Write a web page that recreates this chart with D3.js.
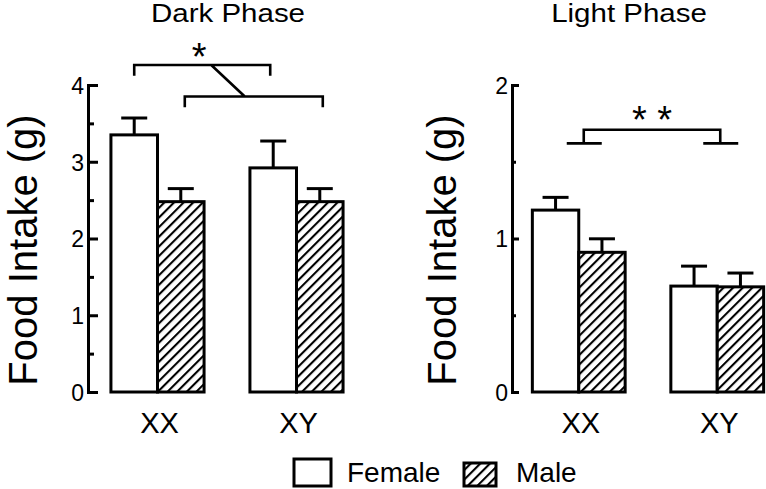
<!DOCTYPE html>
<html>
<head>
<meta charset="utf-8">
<script src="https://cdn.jsdelivr.net/npm/d3@7"></script>
<style>
  body { margin: 0; background: #fff; }
  svg { display: block; }
  text { font-family: "Liberation Sans", Arial, Helvetica, sans-serif; fill: #000; }
</style>
</head>
<body>
<div id="chart"></div>
<script>
const W = 766;
const H = 489;

// data
const groups = ["XX", "XY"];
const sexes = ["Female", "Male"];

const darkFemale = [3.35, 2.92];
const darkFemaleErr = [0.22, 0.35];
const darkMale = [2.48, 2.48];
const darkMaleErr = [0.17, 0.17];
const darkTicks = [0, 1, 2, 3, 4];
const darkMinor = [0.5, 1.5, 2.5, 3.5];

const lightFemale = [1.185, 0.69];
const lightFemaleErr = [0.083, 0.13];
const lightMale = [0.91, 0.685];
const lightMaleErr = [0.088, 0.09];
const lightTicks = [0, 1, 2];
const lightMinor = [0.5, 1.5];

const svg = d3.select("#chart").append("svg")
  .attr("width", W)
  .attr("height", H);

// hatch for the male bars
const defs = svg.append("defs");
defs.append("pattern")
  .attr("id", "hatch")
  .attr("patternUnits", "userSpaceOnUse")
  .attr("width", 6.8)
  .attr("height", 6.8)
  .attr("patternTransform", "rotate(45)")
  .call(p => {
    p.append("rect").attr("width", 6.8).attr("height", 6.8).attr("fill", "#fff");
    p.append("line")
      .attr("x1", 1).attr("y1", 0).attr("x2", 1).attr("y2", 6.8)
      .attr("stroke", "#000").attr("stroke-width", 2.2);
  });

function panel(opts) {
  const g = svg.append("g");
  const y = d3.scaleLinear().domain([0, opts.yMax]).range([392, 85]);
  const x = d3.scaleBand().domain(groups)
    .range(opts.xRange)
    .paddingInner(0.33)
    .paddingOuter(opts.outer);
  const xi = d3.scaleBand().domain(sexes).range([0, x.bandwidth()]);

  const rows = [];
  groups.forEach((grp, i) => {
    rows.push({ grp, sex: "Female", v: opts.female[i], e: opts.femaleErr[i] });
    rows.push({ grp, sex: "Male", v: opts.male[i], e: opts.maleErr[i] });
  });

  // error bars (upper only)
  rows.forEach(d => {
    const cx = x(d.grp) + xi(d.sex) + xi.bandwidth() / 2;
    g.append("line")
      .attr("x1", cx).attr("x2", cx)
      .attr("y1", y(d.v)).attr("y2", y(d.v + d.e))
      .attr("stroke", "#000").attr("stroke-width", 3);
    g.append("line")
      .attr("x1", cx - 13).attr("x2", cx + 13)
      .attr("y1", y(d.v + d.e)).attr("y2", y(d.v + d.e))
      .attr("stroke", "#000").attr("stroke-width", 3);
  });

  g.selectAll("rect.bar")
    .data(rows)
    .join("rect")
    .attr("class", "bar")
    .attr("x", d => x(d.grp) + xi(d.sex))
    .attr("y", d => y(d.v))
    .attr("width", xi.bandwidth())
    .attr("height", d => y(0) - y(d.v))
    .attr("fill", d => d.sex === "Male" ? "url(#hatch)" : "#fff")
    .attr("stroke", "#000")
    .attr("stroke-width", 3);

  // y axis: minor then major ticks, pointing inward
  const ax = g.append("g").attr("transform", `translate(${opts.xRange[0]},0)`);
  ax.call(d3.axisLeft(y).tickValues(opts.minor).tickSize(-opts.minorLen).tickSizeOuter(0).tickFormat(""));
  const ax2 = g.append("g").attr("transform", `translate(${opts.xRange[0]},0)`);
  ax2.call(d3.axisLeft(y).tickValues(opts.ticks).tickSize(-opts.majorLen).tickSizeOuter(0).tickPadding(4).tickFormat(d3.format("d")));
  g.selectAll(".domain").attr("stroke-width", 3).attr("stroke-linecap", "square");
  g.selectAll(".tick line").attr("stroke-width", 3);
  ax2.selectAll(".tick text")
    .attr("font-size", 23)
    .attr("dy", "0.36em")
    .style("font-family", "'Liberation Sans', Arial, sans-serif");

  // category labels
  g.selectAll("text.cat")
    .data(groups)
    .join("text")
    .attr("class", "cat")
    .attr("x", d => x(d) + x.bandwidth() / 2 + 2)
    .attr("y", 433)
    .attr("text-anchor", "middle")
    .attr("font-size", 29)
    .text(d => d);

  // title, drawn a little wide like the source
  g.append("text")
    .attr("transform", `translate(${opts.titleX},22) scale(1.18,1)`)
    .attr("text-anchor", "middle")
    .attr("font-size", 25)
    .text(opts.title);

  // y label
  g.append("text")
    .attr("transform", `translate(${opts.labelX},250) rotate(-90)`)
    .attr("text-anchor", "middle")
    .attr("font-size", 40)
    .text("Food Intake (g)");

  return { g, x, xi, y };
}

const dark = panel({
  title: "Dark Phase", titleX: 228, labelX: 37,
  yMax: 4, ticks: darkTicks, minor: darkMinor, majorLen: 10, minorLen: 6,
  xRange: [88, 366], outer: 0.165,
  female: darkFemale, femaleErr: darkFemaleErr, male: darkMale, maleErr: darkMaleErr
});

const light = panel({
  title: "Light Phase", titleX: 629, labelX: 456,
  yMax: 2, ticks: lightTicks, minor: lightMinor, majorLen: 7, minorLen: 4,
  xRange: [512, 784], outer: 0.147,
  female: lightFemale, femaleErr: lightFemaleErr, male: lightMale, maleErr: lightMaleErr
});

// significance brackets
function barCenter(p, grp, sex) {
  return p.x(grp) + p.xi(sex) + p.xi.bandwidth() / 2;
}

// dark: sex effect across genotypes
const fx1 = barCenter(dark, "XX", "Female"), fx2 = barCenter(dark, "XY", "Female") - 3;
const mx1 = barCenter(dark, "XX", "Male") + 4, mx2 = barCenter(dark, "XY", "Male") + 3;
const fy = dark.y(4.26), fyLeg = dark.y(4.12);
const my = dark.y(3.85), myLeg = dark.y(3.71);
const dpath = d3.path();
dpath.moveTo(fx1, fyLeg); dpath.lineTo(fx1, fy); dpath.lineTo(fx2, fy); dpath.lineTo(fx2, fyLeg);
dpath.moveTo(mx1, myLeg); dpath.lineTo(mx1, my); dpath.lineTo(mx2, my); dpath.lineTo(mx2, myLeg);
dpath.moveTo((fx1 + fx2) / 2 + 9, fy); dpath.lineTo((mx1 + mx2) / 2 - 9, my);
dark.g.append("path").attr("d", dpath.toString()).attr("stroke", "#000")
  .attr("stroke-width", 2.6).attr("fill", "none");
dark.g.append("text")
  .attr("x", (fx1 + fx2) / 2 - 3)
  .attr("y", fy + 5)
  .attr("text-anchor", "middle")
  .attr("font-size", 38)
  .text("*");

// light: genotype effect
const lx1 = light.x("XX") + light.x.bandwidth() / 2 + 5;
const lx2 = light.x("XY") + light.x.bandwidth() / 2 + 3;
const ly = light.y(1.708), lyLeg = light.y(1.62);
const lpath = d3.path();
lpath.moveTo(lx1 - 17, lyLeg); lpath.lineTo(lx1 + 18, lyLeg);
lpath.moveTo(lx1, lyLeg); lpath.lineTo(lx1, ly); lpath.lineTo(lx2, ly); lpath.lineTo(lx2, lyLeg);
lpath.moveTo(lx2 - 17, lyLeg); lpath.lineTo(lx2 + 18, lyLeg);
light.g.append("path").attr("d", lpath.toString()).attr("stroke", "#000")
  .attr("stroke-width", 2.6).attr("fill", "none");
light.g.append("text")
  .attr("x", (lx1 + lx2) / 2)
  .attr("y", ly + 3)
  .attr("text-anchor", "middle")
  .attr("font-size", 38)
  .attr("xml:space", "preserve")
  .text("* *");

// legend
const legend = svg.append("g");
legend.append("rect").attr("x", 294).attr("y", 459).attr("width", 37).attr("height", 27)
  .attr("fill", "#fff").attr("stroke", "#000").attr("stroke-width", 3);
legend.append("text").attr("x", 347).attr("y", 482).attr("font-size", 28).text(sexes[0]);
legend.append("rect").attr("x", 464).attr("y", 463).attr("width", 32).attr("height", 23)
  .attr("fill", "url(#hatch)").attr("stroke", "#000").attr("stroke-width", 3);
legend.append("text").attr("x", 516).attr("y", 482).attr("font-size", 28).text(sexes[1]);
</script>
</body>
</html>
